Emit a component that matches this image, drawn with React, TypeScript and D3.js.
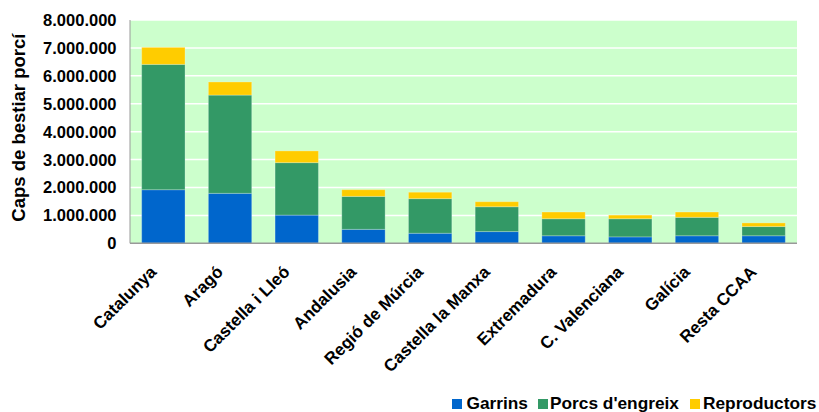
import React from "react";
import * as d3 from "d3";

const categories = [
  "Catalunya",
  "Aragó",
  "Castella i Lleó",
  "Andalusia",
  "Regió de Múrcia",
  "Castella la Manxa",
  "Extremadura",
  "C. Valenciana",
  "Galícia",
  "Resta CCAA",
];
const garrins = [1920000, 1790000, 1010000, 500000, 360000, 420000, 270000, 230000, 270000, 270000];
const porcsEngreix = [4490000, 3520000, 1880000, 1180000, 1240000, 890000, 610000, 650000, 660000, 330000];
const reproductors = [610000, 470000, 420000, 240000, 230000, 180000, 240000, 130000, 190000, 130000];
const seriesNames = ["Garrins", "Porcs d'engreix", "Reproductors"];
const seriesColors = ["#0066CC", "#339966", "#FFCC00"];
const yTicks = [0, 1000000, 2000000, 3000000, 4000000, 5000000, 6000000, 7000000, 8000000];
const yTitle = "Caps de bestiar porcí";

const W = 819;
const H = 412;
const plot = { left: 130, right: 797, top: 20, bottom: 243.3 };
const FONT = "'Liberation Sans', Arial, sans-serif";

const locale = d3.formatLocale({ decimal: ",", thousands: ".", grouping: [3], currency: ["", ""] });
const fmt = locale.format(",");

export default function App() {
  const rows = categories.map((c, i) => ({
    cat: c,
    [seriesNames[0]]: garrins[i],
    [seriesNames[1]]: porcsEngreix[i],
    [seriesNames[2]]: reproductors[i],
  }));
  const stacked = d3.stack<any>().keys(seriesNames)(rows);

  const x = d3.scaleBand<string>().domain(categories).range([plot.left, plot.right]).paddingInner(0.35).paddingOuter(0.175);
  const y = d3.scaleLinear().domain([0, 8000000]).range([plot.bottom, plot.top]);

  const legendItems = [
    { name: seriesNames[0], color: seriesColors[0], sx: 452, tx: 466.5 },
    { name: seriesNames[1], color: seriesColors[1], sx: 538, tx: 550 },
    { name: seriesNames[2], color: seriesColors[2], sx: 690, tx: 703 },
  ];

  return (
    <svg width={W} height={H} style={{ position: "absolute", left: 0, top: 0, background: "#fff" }} fontFamily={FONT}>
      <rect x={plot.left} y={plot.top} width={plot.right - plot.left} height={plot.bottom - plot.top} fill="#CCFFCC" />
      {yTicks.slice(1).map((t) => (
        <line key={t} x1={plot.left} x2={plot.right} y1={y(t)} y2={y(t)} stroke="#ffffff" strokeWidth={1.5} />
      ))}
      {stacked.map((s, si) => (
        <g key={s.key}>
          {s.map((d, i) => (
            <rect
              key={i}
              x={x(categories[i])}
              y={y(d[1])}
              width={x.bandwidth()}
              height={Math.max(0, y(d[0]) - y(d[1]))}
              fill={seriesColors[si]}
              stroke="rgba(255,255,255,0.25)"
              strokeWidth={1}
            />
          ))}
        </g>
      ))}
      <line x1={plot.left} x2={plot.left} y1={plot.top} y2={plot.bottom} stroke="#999" strokeWidth={1} />
      <line x1={plot.left} x2={plot.right} y1={plot.bottom} y2={plot.bottom} stroke="#999" strokeWidth={1.5} />
      {yTicks.map((t) => (
        <text key={t} x={116.5} y={y(t)} dy="0.36em" textAnchor="end" fontSize={16.5} fontWeight="bold" fill="#000">
          {fmt(t)}
        </text>
      ))}
      <text
        transform={`translate(25,${(plot.top + plot.bottom) / 2 - 4}) rotate(-90)`}
        textAnchor="middle"
        fontSize={18.5}
        fontWeight="bold"
        fill="#000"
      >
        {yTitle}
      </text>
      {categories.map((c) => {
        const cx = (x(c) as number) + x.bandwidth() / 2 - 6;
        return (
          <text key={c} transform={`translate(${cx},273) rotate(-45)`} textAnchor="end" fontSize={17} fontWeight="bold" fill="#000">
            {c}
          </text>
        );
      })}
      {legendItems.map((l) => (
        <g key={l.name}>
          <rect x={l.sx} y={399} width={10} height={10} fill={l.color} />
          <text x={l.tx} y={409} fontSize={17.3} fontWeight="bold" fill="#000">
            {l.name}
          </text>
        </g>
      ))}
    </svg>
  );
}
